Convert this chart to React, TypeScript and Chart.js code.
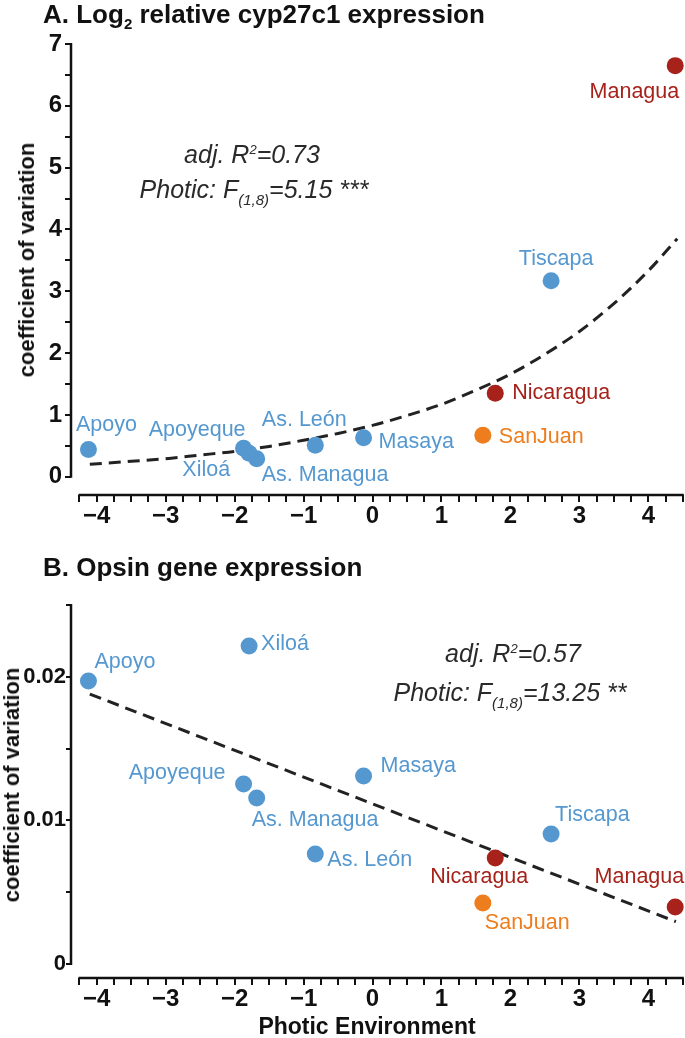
import React, { useEffect, useRef } from "react";
import { Chart, registerables } from "chart.js";

Chart.register(...registerables);

// ---------- data ----------
const lakes = ["Apoyo", "Apoyeque", "Xiloá", "As. Managua", "As. León", "Masaya", "SanJuan", "Nicaragua", "Tiscapa", "Managua"];
const lakeKind = ["crater", "crater", "crater", "crater", "crater", "crater", "river", "great", "crater", "great"];
const photicEnv = [-4.12, -1.87, -1.79, -1.68, -0.83, -0.13, 1.6, 1.78, 2.59, 4.39];
const cyp27c1CV = [0.44, 0.46, 0.38, 0.29, 0.51, 0.63, 0.67, 1.35, 3.17, 6.65];
const opsinCV = [0.0197, 0.01253, 0.02214, 0.01156, 0.00766, 0.01309, 0.00425, 0.00738, 0.00905, 0.00397];

// fitted curves
const cypFitX = [-4.1, -3.5, -3, -2.5, -2, -1.5, -1, -0.5, 0, 0.5, 1, 1.5, 2, 2.5, 3, 3.5, 4, 4.42];
const cypFitY = [0.2, 0.25, 0.29, 0.35, 0.41, 0.49, 0.59, 0.7, 0.83, 0.99, 1.17, 1.4, 1.66, 1.98, 2.35, 2.8, 3.33, 3.85];
const opsinFitX = [-4.1, 4.4];
const opsinFitY = [0.0188, 0.00295];

// tick labels
const xMajor = [-4, -3, -2, -1, 0, 1, 2, 3, 4];
const xTickLabels = ["\u22124", "\u22123", "\u22122", "\u22121", "0", "1", "2", "3", "4"];
const yMajorA = [0, 1, 2, 3, 4, 5, 6, 7];
const yTickLabelsA = ["0", "1", "2", "3", "4", "5", "6", "7"];
const yMajorB = [0, 0.01, 0.02];
const yTickLabelsB = ["0", "0.01", "0.02"];

// ---------- styling / layout ----------
const kindColor: Record<string, string> = { crater: "#5598D0", river: "#EE7D1E", great: "#A6221A" };
const FONT = '"Liberation Sans", Arial, Helvetica, sans-serif';

type LP = { dx: number; dy: number; align: CanvasTextAlign };
const labelPosA: LP[] = [
  { dx: 18, dy: -24, align: "center" },
  { dx: 2, dy: -18, align: "right" },
  { dx: -19, dy: 17, align: "right" },
  { dx: 5, dy: 16, align: "left" },
  { dx: -11, dy: -25, align: "center" },
  { dx: 15, dy: 4, align: "left" },
  { dx: 16, dy: 2, align: "left" },
  { dx: 17, dy: 0, align: "left" },
  { dx: 5, dy: -22, align: "center" },
  { dx: 4, dy: 26, align: "right" },
];
const labelPosB: LP[] = [
  { dx: 6, dy: -19, align: "left" },
  { dx: -18, dy: -11, align: "right" },
  { dx: 12, dy: -2, align: "left" },
  { dx: -5, dy: 22, align: "left" },
  { dx: 12, dy: 6, align: "left" },
  { dx: 17, dy: -10, align: "left" },
  { dx: 2, dy: 20, align: "left" },
  { dx: -16, dy: 19, align: "center" },
  { dx: 4, dy: -19, align: "left" },
  { dx: 9, dy: -30, align: "right" },
];

function range(a: number, b: number, div: number) {
  const out: number[] = [];
  for (let i = a; i <= b; i++) out.push(i / div);
  return out;
}

function labelFor(v: number, majors: number[], labels: string[]) {
  const idx = majors.findIndex((m) => Math.abs(m - v) < 1e-9);
  return idx >= 0 ? labels[idx] : "";
}

type PanelCfg = {
  height: number;
  padTop: number;
  xScaleHeight: number;
  xMin: number;
  xMax: number;
  yMin: number;
  yMax: number;
  yAxisFrom: number;
  yAxisTo: number;
  yTicks: number[];
  yMajor: number[];
  yLabels: string[];
  yFontSize: number;
  yTickLength: number;
  yPadding: number;
  values: number[];
  fitX: number[];
  fitY: number[];
  labelPos: LP[];
};

function Panel({ cfg }: { cfg: PanelCfg }) {
  const ref = useRef<HTMLCanvasElement | null>(null);
  useEffect(() => {
    if (!ref.current) return;
    const xTicks = range(-17, 18, 4);
    const decor = {
      id: "panelDecor",
      afterDatasetsDraw(chart: any) {
        const { ctx } = chart;
        const meta = chart.getDatasetMeta(1);
        ctx.save();
        ctx.font = `21.5px ${FONT}`;
        ctx.textBaseline = "middle";
        meta.data.forEach((el: any, i: number) => {
          const p = cfg.labelPos[i];
          ctx.fillStyle = kindColor[lakeKind[i]];
          ctx.textAlign = p.align;
          ctx.fillText(lakes[i], el.x + p.dx, el.y + p.dy);
        });
        ctx.restore();
      },
      afterDraw(chart: any) {
        const { ctx, chartArea, scales } = chart;
        const x = scales.x;
        const y = scales.y;
        ctx.save();
        ctx.strokeStyle = "#111";
        ctx.lineWidth = 2.5;
        ctx.beginPath();
        ctx.moveTo(chartArea.left, y.getPixelForValue(cfg.yAxisFrom) + 1);
        ctx.lineTo(chartArea.left, y.getPixelForValue(cfg.yAxisTo) - 1);
        ctx.stroke();
        ctx.beginPath();
        ctx.moveTo(x.getPixelForValue(xTicks[0]) - 1, chartArea.bottom);
        ctx.lineTo(x.getPixelForValue(xTicks[xTicks.length - 1]) + 1, chartArea.bottom);
        ctx.stroke();
        ctx.restore();
      },
    };
    const chart = new Chart(ref.current, {
      type: "scatter",
      data: {
        datasets: [
          {
            label: "fit",
            data: cfg.fitX.map((x, i) => ({ x, y: cfg.fitY[i] })),
            showLine: true,
            borderColor: "#222",
            borderWidth: 3,
            borderDash: [12, 7],
            pointRadius: 0,
            cubicInterpolationMode: "monotone",
            fill: false,
            order: 2,
            clip: false,
          } as any,
          {
            label: "lakes",
            data: photicEnv.map((x, i) => ({ x, y: cfg.values[i] })),
            pointRadius: 8.5,
            pointHoverRadius: 8.5,
            backgroundColor: lakeKind.map((k) => kindColor[k]),
            borderWidth: 0,
            order: 1,
            clip: false,
          } as any,
        ],
      },
      options: {
        responsive: false,
        animation: false,
        events: [],
        layout: { autoPadding: false, padding: { top: cfg.padTop, left: 0, right: 0, bottom: 0 } },
        plugins: { legend: { display: false }, tooltip: { enabled: false } },
        scales: {
          x: {
            type: "linear",
            position: "bottom",
            min: cfg.xMin,
            max: cfg.xMax,
            afterBuildTicks: (s: any) => {
              s.ticks = xTicks.map((v) => ({ value: v }));
            },
            afterFit: (s: any) => {
              s.height = cfg.xScaleHeight;
              s.paddingLeft = 0;
              s.paddingRight = 0;
            },
            ticks: {
              autoSkip: false,
              maxRotation: 0,
              minRotation: 0,
              padding: 2,
              color: "#111",
              font: { family: FONT, size: 24, weight: "bold", lineHeight: 1 },
              callback: (v: any) => labelFor(Number(v), xMajor, xTickLabels),
            },
            grid: { display: true, drawOnChartArea: false, drawTicks: true, tickLength: 7, color: "#111", lineWidth: 2 },
            border: { display: false },
          },
          y: {
            type: "linear",
            min: cfg.yMin,
            max: cfg.yMax,
            afterBuildTicks: (s: any) => {
              s.ticks = cfg.yTicks.map((v) => ({ value: v }));
            },
            afterFit: (s: any) => {
              s.width = 71;
              s.paddingTop = 0;
              s.paddingBottom = 0;
            },
            ticks: {
              autoSkip: false,
              padding: cfg.yPadding,
              color: "#111",
              font: { family: FONT, size: cfg.yFontSize, weight: "bold", lineHeight: 1 },
              callback: (v: any) => labelFor(Number(v), cfg.yMajor, cfg.yLabels),
            },
            grid: { display: true, drawOnChartArea: false, drawTicks: true, tickLength: cfg.yTickLength, color: "#111", lineWidth: 2 },
            border: { display: false },
          },
        },
      } as any,
      plugins: [decor],
    });
    return () => chart.destroy();
  }, []);
  return <canvas ref={ref} width={685} height={cfg.height} style={{ display: "block", width: 685, height: cfg.height }} />;
}

const panelA: PanelCfg = {
  height: 540,
  padTop: 44,
  xScaleHeight: 45,
  xMin: -4.373,
  xMax: 4.532,
  yMin: -0.296,
  yMax: 7,
  yAxisFrom: 0,
  yAxisTo: 7,
  yTicks: range(0, 14, 2),
  yMajor: yMajorA,
  yLabels: yTickLabelsA,
  yFontSize: 24,
  yTickLength: 6,
  yPadding: 3,
  values: cyp27c1CV,
  fitX: cypFitX,
  fitY: cypFitY,
  labelPos: labelPosA,
};

const panelB: PanelCfg = {
  height: 498,
  padTop: 65,
  xScaleHeight: 60,
  xMin: -4.373,
  xMax: 4.532,
  yMin: -0.000975,
  yMax: 0.025,
  yAxisFrom: 0,
  yAxisTo: 0.025,
  yTicks: range(0, 5, 200),
  yMajor: yMajorB,
  yLabels: yTickLabelsB,
  yFontSize: 22,
  yTickLength: 5,
  yPadding: 0,
  values: opsinCV,
  fitX: opsinFitX,
  fitY: opsinFitY,
  labelPos: labelPosB,
};

const abs = (left: number, top: number, extra: React.CSSProperties = {}): React.CSSProperties => ({
  position: "absolute",
  left,
  top,
  whiteSpace: "nowrap",
  fontFamily: FONT,
  ...extra,
});

const titleStyle: React.CSSProperties = { fontSize: 26, fontWeight: "bold", lineHeight: "26px", color: "#111" };
const axisTitleStyle: React.CSSProperties = { fontSize: 22, fontWeight: "bold", lineHeight: "22px", color: "#111" };
const annoStyle: React.CSSProperties = {
  fontSize: 25,
  fontStyle: "italic",
  fontWeight: 300,
  lineHeight: "25px",
  color: "#2a2a2a",
  transform: "translate(-50%, -50%)",
};
const subStyle: React.CSSProperties = { fontSize: 15, verticalAlign: "-7px", lineHeight: 0 };
const supStyle: React.CSSProperties = { fontSize: 13, verticalAlign: "9px", lineHeight: 0 };

export default function App() {
  return (
    <div style={{ position: "absolute", left: 0, top: 0, width: 685, height: 1038, background: "#fff", overflow: "hidden" }}>
      <div style={abs(0, 0)}>
        <Panel cfg={panelA} />
      </div>
      <div style={abs(0, 540)}>
        <Panel cfg={panelB} />
      </div>

      <div style={abs(43, 1, titleStyle)}>
        A. Log<sub style={{ fontSize: 15, verticalAlign: "-6px", lineHeight: 0 }}>2</sub> relative cyp27c1 expression
      </div>
      <div style={abs(43, 554, titleStyle)}>B. Opsin gene expression</div>

      <div style={abs(27, 260, { ...axisTitleStyle, transform: "translate(-50%, -50%) rotate(-90deg)" })}>
        coefficient of variation
      </div>
      <div style={abs(12, 785, { ...axisTitleStyle, transform: "translate(-50%, -50%) rotate(-90deg)" })}>
        coefficient of variation
      </div>
      <div style={abs(367, 1026, { fontSize: 23, fontWeight: "bold", lineHeight: "23px", color: "#111", transform: "translate(-50%, -50%)" })}>
        Photic Environment
      </div>

      <div style={abs(252, 154, annoStyle)}>
        adj. R<span style={supStyle}>2</span>=0.73
      </div>
      <div style={abs(254, 189, annoStyle)}>
        Photic: F<span style={subStyle}>(1,8)</span>=5.15 ***
      </div>
      <div style={abs(513, 653, annoStyle)}>
        adj. R<span style={supStyle}>2</span>=0.57
      </div>
      <div style={abs(510, 692, annoStyle)}>
        Photic: F<span style={subStyle}>(1,8)</span>=13.25 **
      </div>
    </div>
  );
}
